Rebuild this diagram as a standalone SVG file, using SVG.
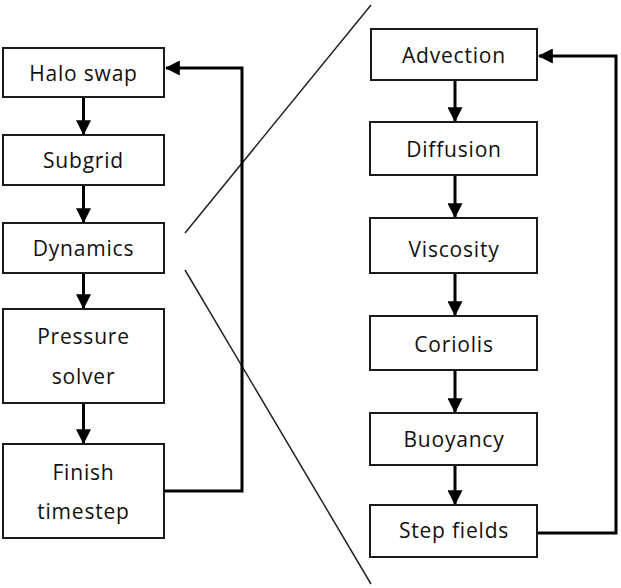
<svg xmlns="http://www.w3.org/2000/svg" width="621" height="588" viewBox="0 0 621 588">
<style>
.box{fill:#fff;stroke:#1a1a1a;stroke-width:2}
.t{font-family:"Open Sans","Liberation Sans",sans-serif;font-size:21px;fill:#111;text-anchor:middle;letter-spacing:0.8px}
.c{fill:none;stroke:#000;stroke-width:3}
.d{fill:none;stroke:#222;stroke-width:1.5}
</style>
<defs>
<marker id="ah" markerWidth="5" markerHeight="5" refX="4.6" refY="2.5" orient="auto" markerUnits="strokeWidth">
<path d="M0,0 L5,2.5 L0,5 Z" fill="#000"/>
</marker>
</defs>
<rect width="621" height="588" fill="#fff"/>
<g id="zoom-lines">
<line class="d" x1="371" y1="5" x2="185" y2="233"/>
<line class="d" x1="185" y1="270" x2="371" y2="584"/>
</g>
<g id="connectors">
<line class="c" x1="83.5" y1="97" x2="83.5" y2="134" marker-end="url(#ah)"/>
<line class="c" x1="83.5" y1="185" x2="83.5" y2="222" marker-end="url(#ah)"/>
<line class="c" x1="83.5" y1="273" x2="83.5" y2="308" marker-end="url(#ah)"/>
<line class="c" x1="83.5" y1="403" x2="83.5" y2="443" marker-end="url(#ah)"/>
<polyline class="c" points="164,491 242,491 242,68 166,68" marker-end="url(#ah)"/>
<line class="c" x1="455" y1="80" x2="455" y2="121" marker-end="url(#ah)"/>
<line class="c" x1="455" y1="175" x2="455" y2="217" marker-end="url(#ah)"/>
<line class="c" x1="455" y1="273" x2="455" y2="315" marker-end="url(#ah)"/>
<line class="c" x1="455" y1="370" x2="455" y2="412" marker-end="url(#ah)"/>
<line class="c" x1="455" y1="465" x2="455" y2="504" marker-end="url(#ah)"/>
<polyline class="c" points="537,533 616,533 616,56 539,56" marker-end="url(#ah)"/>
</g>
<g id="halo-swap"><rect class="box" x="3" y="48" width="161" height="49"/><text class="t" x="83.5" y="81">Halo swap</text></g>
<g id="subgrid"><rect class="box" x="3" y="135" width="161" height="50"/><text class="t" x="83.5" y="168">Subgrid</text></g>
<g id="dynamics"><rect class="box" x="3" y="223" width="161" height="50"/><text class="t" x="83.5" y="256">Dynamics</text></g>
<g id="pressure-solver"><rect class="box" x="3" y="309" width="161" height="94"/><text class="t" x="83.5" y="344">Pressure</text><text class="t" x="83.5" y="384">solver</text></g>
<g id="finish-timestep"><rect class="box" x="3" y="444" width="161" height="94"/><text class="t" x="83.5" y="480">Finish</text><text class="t" x="83.5" y="519">timestep</text></g>
<g id="advection"><rect class="box" x="371" y="29" width="166" height="51"/><text class="t" x="454" y="63">Advection</text></g>
<g id="diffusion"><rect class="box" x="370" y="122" width="167" height="53"/><text class="t" x="454" y="157">Diffusion</text></g>
<g id="viscosity"><rect class="box" x="370" y="218" width="167" height="55"/><text class="t" x="454" y="257">Viscosity</text></g>
<g id="coriolis"><rect class="box" x="370" y="316" width="167" height="54"/><text class="t" x="454" y="352">Coriolis</text></g>
<g id="buoyancy"><rect class="box" x="370" y="413" width="167" height="52"/><text class="t" x="454" y="447">Buoyancy</text></g>
<g id="step-fields"><rect class="box" x="370" y="505" width="167" height="52"/><text class="t" x="454" y="538">Step fields</text></g>
</svg>
